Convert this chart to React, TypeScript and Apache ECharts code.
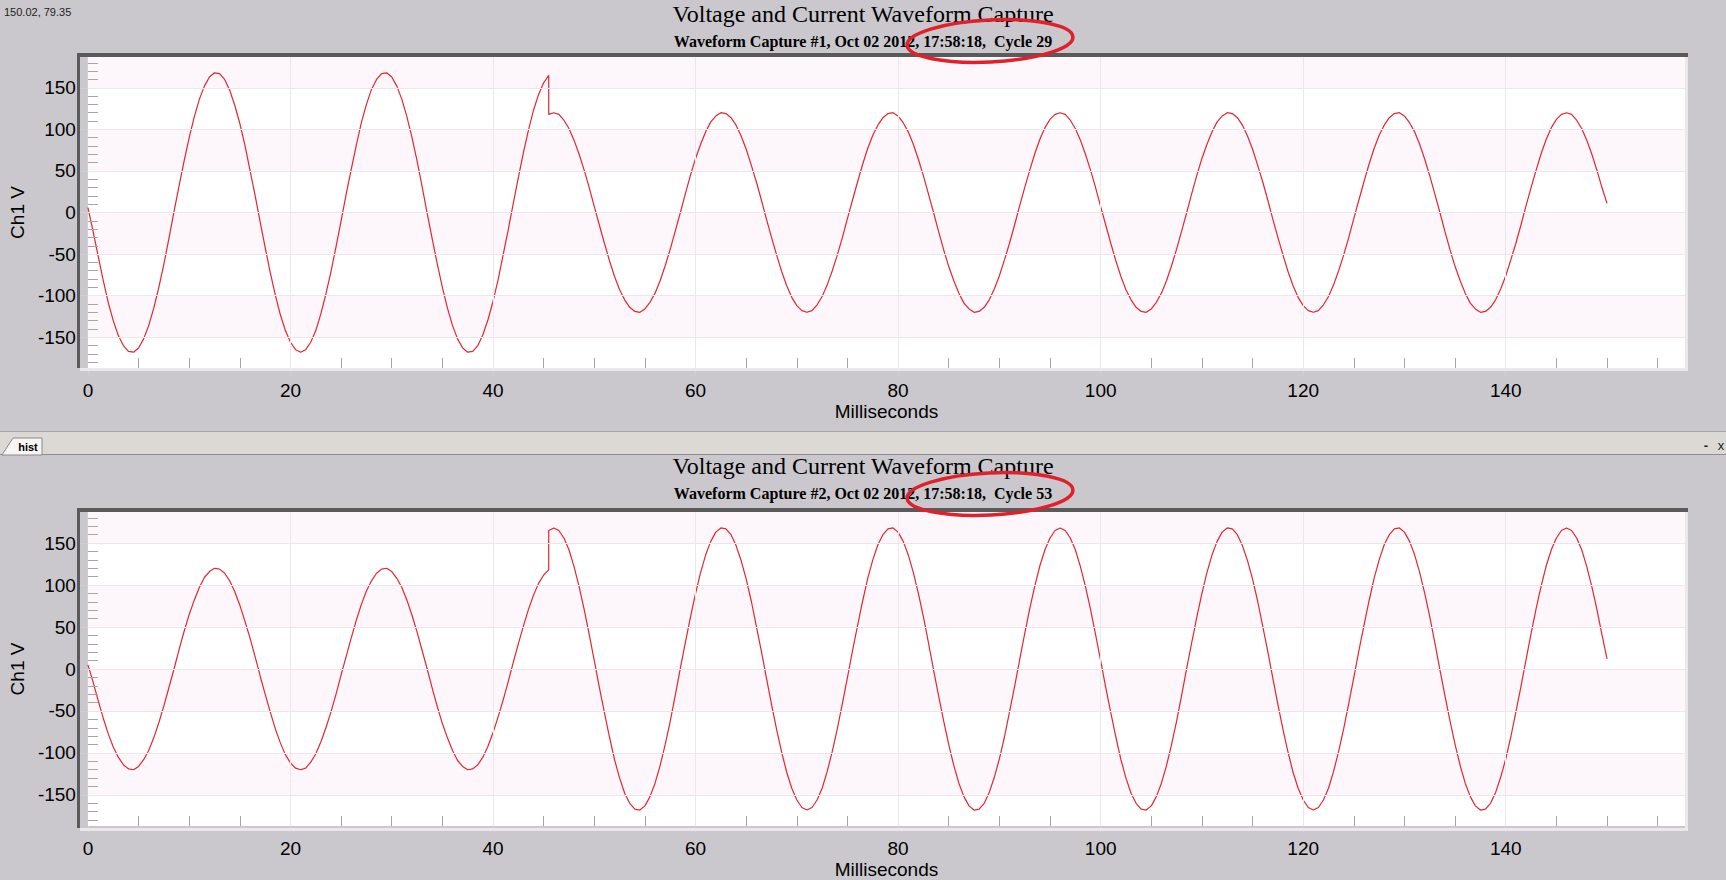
import React, { useEffect, useRef } from "react";
import * as echarts from "echarts";

// Sample times (ms); 45.5 appears twice because the capture steps there.
const timeMs = [
  0, 0.5, 1, 1.5, 2, 2.5, 3, 3.5, 4, 4.5,
  5, 5.5, 6, 6.5, 7, 7.5, 8, 8.5, 9, 9.5,
  10, 10.5, 11, 11.5, 12, 12.5, 13, 13.5, 14, 14.5,
  15, 15.5, 16, 16.5, 17, 17.5, 18, 18.5, 19, 19.5,
  20, 20.5, 21, 21.5, 22, 22.5, 23, 23.5, 24, 24.5,
  25, 25.5, 26, 26.5, 27, 27.5, 28, 28.5, 29, 29.5,
  30, 30.5, 31, 31.5, 32, 32.5, 33, 33.5, 34, 34.5,
  35, 35.5, 36, 36.5, 37, 37.5, 38, 38.5, 39, 39.5,
  40, 40.5, 41, 41.5, 42, 42.5, 43, 43.5, 44, 44.5,
  45, 45.5, 45.5, 46, 46.5, 47, 47.5, 48, 48.5, 49, 49.5,
  50, 50.5, 51, 51.5, 52, 52.5, 53, 53.5, 54, 54.5,
  55, 55.5, 56, 56.5, 57, 57.5, 58, 58.5, 59, 59.5,
  60, 60.5, 61, 61.5, 62, 62.5, 63, 63.5, 64, 64.5,
  65, 65.5, 66, 66.5, 67, 67.5, 68, 68.5, 69, 69.5,
  70, 70.5, 71, 71.5, 72, 72.5, 73, 73.5, 74, 74.5,
  75, 75.5, 76, 76.5, 77, 77.5, 78, 78.5, 79, 79.5,
  80, 80.5, 81, 81.5, 82, 82.5, 83, 83.5, 84, 84.5,
  85, 85.5, 86, 86.5, 87, 87.5, 88, 88.5, 89, 89.5,
  90, 90.5, 91, 91.5, 92, 92.5, 93, 93.5, 94, 94.5,
  95, 95.5, 96, 96.5, 97, 97.5, 98, 98.5, 99, 99.5,
  100, 100.5, 101, 101.5, 102, 102.5, 103, 103.5, 104, 104.5,
  105, 105.5, 106, 106.5, 107, 107.5, 108, 108.5, 109, 109.5,
  110, 110.5, 111, 111.5, 112, 112.5, 113, 113.5, 114, 114.5,
  115, 115.5, 116, 116.5, 117, 117.5, 118, 118.5, 119, 119.5,
  120, 120.5, 121, 121.5, 122, 122.5, 123, 123.5, 124, 124.5,
  125, 125.5, 126, 126.5, 127, 127.5, 128, 128.5, 129, 129.5,
  130, 130.5, 131, 131.5, 132, 132.5, 133, 133.5, 134, 134.5,
  135, 135.5, 136, 136.5, 137, 137.5, 138, 138.5, 139, 139.5,
  140, 140.5, 141, 141.5, 142, 142.5, 143, 143.5, 144, 144.5,
  145, 145.5, 146, 146.5, 147, 147.5, 148, 148.5, 149, 149.5,
  150,
];

// Waveform Capture #1, Ch1 V
const capture1Volts = [
  6, -22, -52, -81, -108, -130, -148, -160, -167, -168,
  -163, -152, -136, -115, -90, -62, -31, 1, 32, 62,
  90, 115, 136, 152, 163, 168, 167, 160, 147, 129,
  107, 81, 51, 21, -11, -42, -72, -99, -123, -142,
  -156, -165, -168, -165, -156, -142, -122, -98, -71, -41,
  -10, 22, 52, 81, 108, 130, 148, 160, 167, 168,
  163, 152, 136, 115, 90, 62, 31, -1, -32, -62,
  -90, -115, -136, -152, -163, -168, -167, -160, -147, -129,
  -107, -81, -51, -21, 11, 42, 72, 99, 123, 142,
  156, 165, 118, 120, 118, 111, 101, 87, 70, 51, 30,
  7, -15, -37, -58, -77, -93, -105, -114, -119, -120,
  -116, -108, -97, -82, -64, -44, -22, 0, 23, 45,
  65, 82, 97, 109, 116, 120, 119, 114, 105, 92,
  76, 57, 37, 15, -8, -30, -51, -71, -88, -102,
  -112, -118, -120, -118, -111, -101, -87, -70, -51, -30,
  -7, 15, 37, 58, 77, 93, 105, 114, 119, 120,
  116, 108, 97, 82, 64, 44, 22, 0, -23, -45,
  -65, -82, -97, -109, -116, -120, -119, -114, -105, -92,
  -76, -57, -37, -15, 8, 30, 51, 71, 88, 102,
  112, 118, 120, 118, 111, 101, 87, 70, 51, 30,
  7, -15, -37, -58, -77, -93, -105, -114, -119, -120,
  -116, -108, -97, -82, -64, -44, -22, 0, 23, 45,
  65, 82, 97, 109, 116, 120, 119, 114, 105, 92,
  76, 57, 37, 15, -8, -30, -51, -71, -88, -102,
  -112, -118, -120, -118, -111, -101, -87, -70, -51, -30,
  -7, 15, 37, 58, 77, 93, 105, 114, 119, 120,
  116, 108, 97, 82, 64, 44, 22, 0, -23, -45,
  -65, -82, -97, -109, -116, -120, -119, -114, -105, -92,
  -76, -57, -37, -15, 8, 30, 51, 71, 88, 102,
  112, 118, 120, 118, 111, 101, 87, 70, 51, 30,
  11,
];

// Waveform Capture #2, Ch1 V
const capture2Volts = [
  5, -15, -37, -58, -77, -93, -105, -114, -119, -120,
  -116, -108, -97, -82, -64, -44, -22, 0, 23, 45,
  65, 82, 97, 109, 116, 120, 119, 114, 105, 92,
  76, 57, 37, 15, -8, -30, -51, -71, -88, -102,
  -112, -118, -120, -118, -111, -101, -87, -70, -51, -30,
  -7, 15, 37, 58, 77, 93, 105, 114, 119, 120,
  116, 108, 97, 82, 64, 44, 22, 0, -23, -45,
  -65, -82, -97, -109, -116, -120, -119, -114, -105, -92,
  -76, -57, -37, -15, 8, 30, 51, 71, 88, 102,
  112, 118, 165, 168, 165, 156, 142, 122, 98, 71, 41,
  10, -22, -52, -81, -108, -130, -148, -160, -167, -168,
  -163, -152, -136, -115, -90, -62, -31, 1, 32, 62,
  90, 115, 136, 152, 163, 168, 167, 160, 147, 129,
  107, 81, 51, 21, -11, -42, -72, -99, -123, -142,
  -156, -165, -168, -165, -156, -142, -122, -98, -71, -41,
  -10, 22, 52, 81, 108, 130, 148, 160, 167, 168,
  163, 152, 136, 115, 90, 62, 31, -1, -32, -62,
  -90, -115, -136, -152, -163, -168, -167, -160, -147, -129,
  -107, -81, -51, -21, 11, 42, 72, 99, 123, 142,
  156, 165, 168, 165, 156, 142, 122, 98, 71, 41,
  10, -22, -52, -81, -108, -130, -148, -160, -167, -168,
  -163, -152, -136, -115, -90, -62, -31, 1, 32, 62,
  90, 115, 136, 152, 163, 168, 167, 160, 147, 129,
  107, 81, 51, 21, -11, -42, -72, -99, -123, -142,
  -156, -165, -168, -165, -156, -142, -122, -98, -71, -41,
  -10, 22, 52, 81, 108, 130, 148, 160, 167, 168,
  163, 152, 136, 115, 90, 62, 31, -1, -32, -62,
  -90, -115, -136, -152, -163, -168, -167, -160, -147, -129,
  -107, -81, -51, -21, 11, 42, 72, 99, 123, 142,
  156, 165, 168, 165, 156, 142, 122, 98, 71, 41,
  12,
];

const xMajorTicks = [0, 20, 40, 60, 80, 100, 120, 140];
const xMinorTicks = [5, 10, 15, 25, 30, 35, 45, 50, 55, 65, 70, 75, 85, 90, 95, 105, 110, 115, 125, 130, 135, 145, 150, 155];
const yMajorTicks = [-150, -100, -50, 0, 50, 100, 150];
const yMinorTicks = [-180, -170, -160, -140, -130, -120, -110, -90, -80, -70, -60, -40, -30, -20, -10, 10, 20, 30, 40, 60, 70, 80, 90, 110, 120, 130, 140, 160, 170, 180];
const shadedBands = [[-150, -100], [-50, 0], [50, 100], [150, 187]];

const X_MIN = 0;
const X_MAX = 157.7;
const Y_MIN = -187;
const Y_MAX = 187;

const panels = [
  {
    title: "Voltage and Current Waveform Capture",
    subtitle: "Waveform Capture #1, Oct 02 2012, 17:58:18,  Cycle 29",
    values: capture1Volts,
  },
  {
    title: "Voltage and Current Waveform Capture",
    subtitle: "Waveform Capture #2, Oct 02 2012, 17:58:18,  Cycle 53",
    values: capture2Volts,
  },
];

// layout (pixels)
const layout = [
  { gridTop: 57, gridHeight: 311, titleY: 14, subtitleY: 41, ringY: 41 },
  { gridTop: 512, gridHeight: 316, titleY: 466, subtitleY: 493, ringY: 494 },
];
const GRID_LEFT = 80;
const GRID_WIDTH = 1605;
const PAGE_BG = "#cac8cc";
const SANS = "'Liberation Sans', Arial, sans-serif";
const SERIF = "'Liberation Serif', 'Times New Roman', serif";

function buildOption() {
  const grid: any[] = [];
  const xAxis: any[] = [];
  const yAxis: any[] = [];
  const series: any[] = [];
  const elements: any[] = [];

  panels.forEach((p, i) => {
    const L = layout[i];
    grid.push({ left: GRID_LEFT, top: L.gridTop, width: GRID_WIDTH, height: L.gridHeight, show: true, backgroundColor: "#ffffff", borderWidth: 0 });

    xAxis.push({
      type: "value", gridIndex: i, min: X_MIN, max: X_MAX, position: "bottom", z: 10,
      axisLine: { show: false, onZero: false },
      axisTick: { show: true, customValues: xMajorTicks, inside: false, length: 7, lineStyle: { color: "#d2ced2", width: 1 } },
      axisLabel: { customValues: xMajorTicks, fontSize: 19, color: "#000", fontFamily: SANS, margin: 13 },
      splitLine: { show: false },
      name: "Milliseconds", nameLocation: "middle", nameGap: 34,
      nameTextStyle: { fontSize: 19, color: "#000", fontFamily: SANS },
    });
    xAxis.push({
      type: "value", gridIndex: i, min: X_MIN, max: X_MAX, position: "bottom", z: 10,
      axisLine: { show: false, onZero: false },
      axisTick: { show: true, customValues: xMinorTicks, inside: true, length: 10, lineStyle: { color: "#a6a6a6", width: 1 } },
      axisLabel: { show: false },
      splitLine: { show: false },
    });
    yAxis.push({
      type: "value", gridIndex: i, min: Y_MIN, max: Y_MAX, position: "left", z: 10,
      axisLine: { show: false, onZero: false },
      axisTick: { show: true, customValues: yMajorTicks, inside: false, length: 8, lineStyle: { color: "#d2ced2", width: 1 } },
      axisLabel: { customValues: yMajorTicks, fontSize: 19, color: "#000", fontFamily: SANS, margin: 12 },
      splitLine: { show: false },
      name: "Ch1 V", nameLocation: "middle", nameGap: 48,
      nameTextStyle: { fontSize: 19, color: "#000", fontFamily: SANS },
    });
    yAxis.push({
      type: "value", gridIndex: i, min: Y_MIN, max: Y_MAX, position: "left", z: 10,
      axisLine: { show: false, onZero: false },
      axisTick: { show: true, customValues: yMinorTicks, inside: true, length: 10, lineStyle: { color: "#a6a6a6", width: 1 } },
      axisLabel: { show: false },
      splitLine: { show: false },
    });

    const pairs = timeMs.map((t, k) => [t, p.values[k]]);

    series.push({
      type: "line", xAxisIndex: 2 * i, yAxisIndex: 2 * i, data: pairs, z: 1, silent: true,
      symbol: "none", lineStyle: { opacity: 0 }, tooltip: { show: false },
      markArea: {
        silent: true,
        itemStyle: { color: "#fdf6fb" },
        data: shadedBands.map(([a, b]) => [{ yAxis: a }, { yAxis: b }]),
      },
      markLine: {
        silent: true,
        symbol: ["none", "none"],
        label: { show: false },
        lineStyle: { color: "#ece7eb", width: 1, type: "solid" },
        emphasis: { disabled: true },
        data: [
          ...yMajorTicks.map((v) => ({ yAxis: v })),
          ...xMajorTicks.filter((v) => v > X_MIN).map((v) => ({ xAxis: v })),
        ],
      },
    });
    series.push({
      type: "line", xAxisIndex: 2 * i, yAxisIndex: 2 * i, data: pairs, z: 3,
      symbol: "none", clip: true,
      lineStyle: { color: "#e3262f", width: 1.2 },
    });

    // titles
    elements.push({
      type: "text", x: 863, y: L.titleY, z: 30,
      style: { text: p.title, fontSize: 24, fontFamily: SERIF, fill: "#000", align: "center", verticalAlign: "middle" },
    });
    elements.push({
      type: "text", x: 863, y: L.subtitleY, z: 30,
      style: { text: p.subtitle, fontSize: 16, fontWeight: "bold", fontFamily: SERIF, fill: "#000", align: "center", verticalAlign: "middle" },
    });

    // plot frame
    const top = L.gridTop;
    const h = L.gridHeight;
    elements.push({ type: "rect", z: 20, shape: { x: 77, y: top - 4, width: 1611, height: 4 }, style: { fill: "#5a5a5a" } });
    elements.push({ type: "rect", z: 20, shape: { x: 77, y: top - 4, width: 3, height: h + 4 }, style: { fill: "#5a5a5a" } });
    elements.push({ type: "rect", z: 20, shape: { x: GRID_LEFT + GRID_WIDTH, y: top, width: 3, height: h + 3 }, style: { fill: "#ebe8eb" } });
    elements.push({ type: "rect", z: 20, shape: { x: GRID_LEFT, y: top + h, width: GRID_WIDTH + 3, height: 3 }, style: { fill: "#ebe8eb" } });

    // red hand-drawn ring
    elements.push({
      type: "ellipse", x: 990, y: L.ringY, rotation: 0.05, z: 40,
      shape: { cx: 0, cy: 0, rx: 83, ry: 21 },
      style: { fill: "none", stroke: "#e0202b", lineWidth: 3.5 },
    });
  });

  // top-left cursor readout
  elements.push({
    type: "text", x: 4, y: 12, z: 30,
    style: { text: "150.02, 79.35", fontSize: 11, fontFamily: SANS, fill: "#222", align: "left", verticalAlign: "middle" },
  });

  // tab bar between panels
  elements.push({ type: "rect", z: 20, shape: { x: 0, y: 431, width: 1726, height: 24 }, style: { fill: "#dcd9d4" } });
  elements.push({ type: "line", z: 21, shape: { x1: 0, y1: 431.5, x2: 1726, y2: 431.5 }, style: { stroke: "#a7a5a9", lineWidth: 1 } });
  elements.push({ type: "line", z: 21, shape: { x1: 0, y1: 454.5, x2: 1726, y2: 454.5 }, style: { stroke: "#8f8d91", lineWidth: 1 } });
  elements.push({
    type: "polygon", z: 22,
    shape: { points: [[2, 455], [13, 438], [42, 438], [42, 455]] },
    style: { fill: "#f7f6f3", stroke: "#8a888c", lineWidth: 1 },
  });
  elements.push({
    type: "text", x: 28, y: 447, z: 23,
    style: { text: "hist", fontSize: 11, fontWeight: "bold", fontFamily: SANS, fill: "#000", align: "center", verticalAlign: "middle" },
  });
  elements.push({
    type: "text", x: 1706, y: 445, z: 23,
    style: { text: "-", fontSize: 13, fontWeight: "bold", fontFamily: SANS, fill: "#222", align: "center", verticalAlign: "middle" },
  });
  elements.push({
    type: "text", x: 1721, y: 445, z: 23,
    style: { text: "x", fontSize: 13, fontFamily: SANS, fill: "#222", align: "center", verticalAlign: "middle" },
  });

  return {
    animation: false,
    backgroundColor: PAGE_BG,
    grid,
    xAxis,
    yAxis,
    series,
    graphic: { elements },
  };
}

export default function App() {
  const ref = useRef<HTMLDivElement>(null);
  useEffect(() => {
    if (!ref.current) return;
    const chart = echarts.init(ref.current, null, { renderer: "svg" });
    chart.setOption(buildOption() as any);
    return () => chart.dispose();
  }, []);
  return (
    <div
      ref={ref}
      style={{ position: "fixed", left: 0, top: 0, width: 1726, height: 880 }}
    />
  );
}
